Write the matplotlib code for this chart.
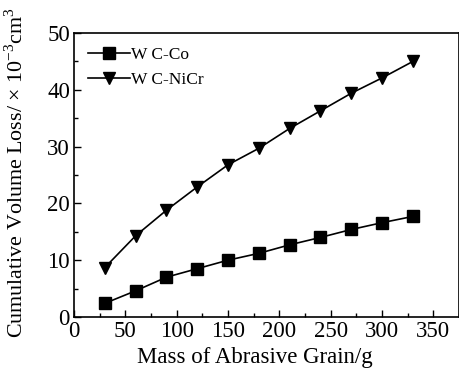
import matplotlib
matplotlib.use("Agg")
import matplotlib.pyplot as plt
from matplotlib.ticker import MultipleLocator

mass = [30, 60, 90, 120, 150, 180, 210, 240, 270, 300, 330]
wc_co = [2.4, 4.6, 7.0, 8.5, 10.0, 11.2, 12.7, 14.0, 15.4, 16.6, 17.7]
wc_nicr = [8.7, 14.3, 18.8, 22.9, 26.8, 29.7, 33.2, 36.3, 39.4, 42.1, 45.0]

plt.rcParams['font.family'] = ['Liberation Serif', 'DejaVu Serif']
plt.rcParams['mathtext.fontset'] = 'custom'
plt.rcParams['mathtext.rm'] = 'Liberation Serif'

fig = plt.figure(figsize=(4.6, 3.8), dpi=100)
ax = fig.add_axes([0.161, 0.166, 0.837, 0.747])

ax.plot(mass, wc_co, color='black', lw=1.2, marker='s', markersize=8, label='W C-Co')
ax.plot(mass, wc_nicr, color='black', lw=1.2, marker='v', markersize=9, label='W C-NiCr')

ax.set_xlim(0, 375)
ax.set_ylim(0, 50)
ax.xaxis.set_major_locator(MultipleLocator(50))
ax.xaxis.set_minor_locator(MultipleLocator(25))
ax.yaxis.set_major_locator(MultipleLocator(10))
ax.yaxis.set_minor_locator(MultipleLocator(5))
ax.tick_params(which='both', direction='in', labelsize=16.5, width=1)
ax.tick_params(which='major', length=5, pad=3)
ax.tick_params(which='minor', length=3)
for s in ax.spines.values():
    s.set_linewidth(1.2)

ax.set_xlabel('Mass of Abrasive Grain/g', fontsize=16.5, labelpad=6)
ax.xaxis.set_label_coords(0.47, -0.105)
ax.set_ylabel('Cumulative Volume Loss/ \u00d7 10$^{-3}$cm$^{3}$', fontsize=15.8, labelpad=2)
ax.yaxis.set_label_coords(-0.12, 0.51)

ax.legend(loc='upper left', frameon=False, fontsize=12.5, handlelength=2.4,
          handletextpad=0.1, borderaxespad=0.4, labelspacing=0.5)

fig.savefig('out.png', dpi=100)
